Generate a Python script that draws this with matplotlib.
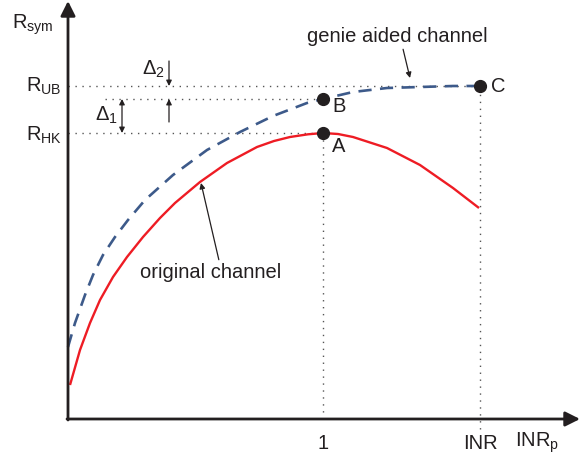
import matplotlib

matplotlib.use("Agg")
import matplotlib.pyplot as plt

plt.rcParams["font.family"] = ["Liberation Sans", "DejaVu Sans"]

# schematic values (origin = axes corner, units ~ px)
red_x = [2, 12, 22, 32, 45, 59, 75, 92, 107, 132, 159, 189, 206, 222, 240, 255,
         270, 285, 319, 352, 385, 411]
red_y = [34, 69, 96, 119, 142, 162, 182, 201, 216, 237, 256, 272, 278, 282, 284.7, 286,
         285, 282, 271, 254, 231, 211]
blue_x = [0, 7, 17, 25, 35, 47, 60, 77, 105, 139, 172, 205, 239, 255,
          285, 319, 352, 385, 412]
blue_y = [72, 96, 124, 144, 164, 182, 199, 219, 244, 269, 287, 303, 316, 320,
          327, 331, 332, 333, 333]

x_one, x_inr, x_end = 255, 412, 512
r_hk, r_b, r_ub = 286, 320, 333
points = {"A": (x_one, r_hk), "B": (x_one, r_b), "C": (x_inr, r_ub)}

RED = "#ee1c24"
BLUE = "#3d5a8a"
INK = "#231f20"
DOT = "#555555"

fig = plt.figure(figsize=(5.85, 4.61), dpi=100)
ax = fig.add_axes([0, 0, 1, 1])
ax.set_xlim(-68, 517)
ax.set_ylim(-42, 419)
ax.axis("off")

# axes with arrows
arrow = dict(arrowstyle="-|>", mutation_scale=22, lw=2.0, color=INK, shrinkA=0, shrinkB=0)
ax.annotate("", xy=(0, 418), xytext=(0, -1), arrowprops=arrow)
ax.annotate("", xy=(x_end, 0), xytext=(-1, 0), arrowprops=arrow)

# dotted guides
dots = dict(color=DOT, lw=1.0, ls=(0, (1, 4)))
ax.plot([0, x_inr], [r_ub, r_ub], **dots)
ax.plot([37, x_one], [r_b, r_b], **dots)
ax.plot([0, x_one], [r_hk, r_hk], **dots)
ax.plot([x_one, x_one], [0, r_hk], **dots)
ax.plot([x_inr, x_inr], [-10, r_ub], **dots)

# curves
ax.plot(red_x, red_y, color=RED, lw=1.7, solid_capstyle="butt", solid_joinstyle="round")
ax.plot(blue_x, blue_y, color=BLUE, lw=1.9, ls=(0, (5, 3.2)))

for name, (px, py) in points.items():
    ax.plot(px, py, "o", color=INK, ms=8.5)

fs = 14.5
ax.text(x_one + 9, r_hk - 14, "A", fontsize=fs, color=INK, ha="left", va="center")
ax.text(x_one + 9, r_b - 8, "B", fontsize=fs, color=INK, ha="left", va="center")
ax.text(x_inr + 11, r_ub - 1, "C", fontsize=fs, color=INK, ha="left", va="center")

# axis labels
ax.text(-56, 394, r"R$_{\mathregular{sym}}$", fontsize=fs, color=INK, ha="left", va="center")
ax.text(-6, r_ub, r"R$_{\mathregular{UB}}$", fontsize=fs, color=INK, ha="right", va="center")
ax.text(-6, r_hk - 2, r"R$_{\mathregular{HK}}$", fontsize=fs, color=INK, ha="right", va="center")
ax.text(x_one, -24, "1", fontsize=fs, color=INK, ha="center", va="center")
ax.text(x_inr, -24, "INR", fontsize=fs, color=INK, ha="center", va="center")
ax.text(469, -24, r"INR$_{\mathregular{p}}$", fontsize=fs, color=INK, ha="center", va="center")

# delta arrows
small = dict(arrowstyle="-|>", mutation_scale=8, lw=0.9, color=INK, shrinkA=0, shrinkB=0)
both = dict(arrowstyle="<|-|>", mutation_scale=8, lw=0.9, color=INK, shrinkA=0, shrinkB=0)
ax.annotate("", xy=(54, r_b), xytext=(54, r_hk), arrowprops=both)
ax.annotate("", xy=(101, r_ub), xytext=(101, 358), arrowprops=small)
ax.annotate("", xy=(101, r_b), xytext=(101, 297), arrowprops=small)
ax.text(38, 304, "Δ$_{\\mathregular{1}}$", fontsize=fs, color=INK, ha="center", va="center")
ax.text(85, 350, "Δ$_{\\mathregular{2}}$", fontsize=fs, color=INK, ha="center", va="center")

# curve annotations
note = dict(arrowstyle="-|>", mutation_scale=8, lw=0.9, color=INK, shrinkA=0, shrinkB=0)
ax.annotate("genie aided channel", xy=(342, r_ub + 8), xytext=(329, 382),
            fontsize=fs, color=INK, ha="center", va="center",
            arrowprops=dict(note, relpos=(0.53, 0)))
ax.annotate("original channel", xy=(133, 236), xytext=(143, 147),
            fontsize=fs, color=INK, ha="center", va="center",
            arrowprops=dict(note, relpos=(0.56, 1)))

fig.savefig("out.png", dpi=100)
